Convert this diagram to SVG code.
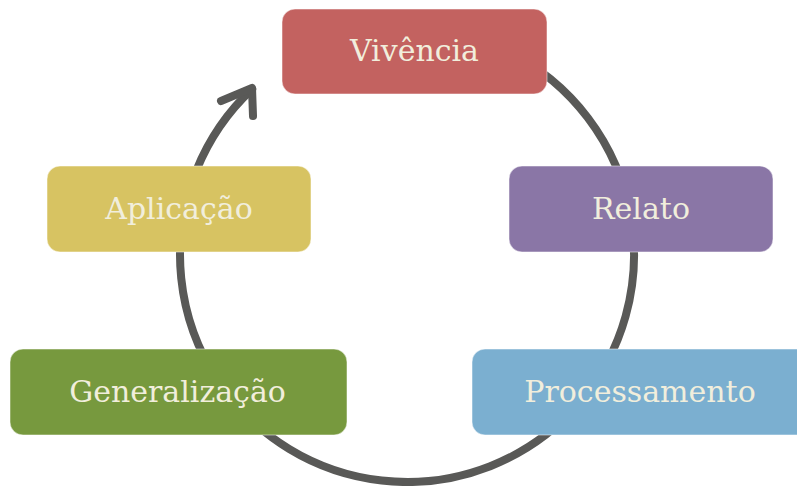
<svg xmlns="http://www.w3.org/2000/svg" width="797" height="486" viewBox="0 0 797 486">
  <style>
    .box { stroke: #ffffff; stroke-opacity: 0.5; stroke-width: 1; }
    .lbl { font-family: "DejaVu Serif", "Liberation Serif", serif; font-size: 30px; fill: #F1EEDC; text-anchor: middle; }
    .conn { fill: none; stroke: #595957; stroke-width: 8; stroke-linecap: round; stroke-linejoin: round; }
  </style>
  <rect width="797" height="486" fill="#ffffff"/>
  <g id="connectors">
    <path class="conn" d="M407,28 A227,227 0 1,1 252.2,89.0"/>
    <path class="conn" d="M221,101 L252,88 L253,116"/>
  </g>
  <g id="vivencia">
    <rect class="box" x="282" y="9" width="265" height="85" rx="13" fill="#C36260"/>
    <text class="lbl" x="414.5" y="61">Vivência</text>
  </g>
  <g id="relato">
    <rect class="box" x="509" y="166" width="264" height="86" rx="13" fill="#8A76A6"/>
    <text class="lbl" x="641" y="219">Relato</text>
  </g>
  <g id="processamento">
    <rect class="box" x="472" y="349" width="340" height="86" rx="13" fill="#7BAFD0"/>
    <text class="lbl" x="640" y="402">Processamento</text>
  </g>
  <g id="generalizacao">
    <rect class="box" x="10" y="349" width="337" height="86" rx="13" fill="#77993E"/>
    <text class="lbl" x="177.5" y="402">Generalização</text>
  </g>
  <g id="aplicacao">
    <rect class="box" x="47" y="166" width="264" height="86" rx="13" fill="#D7C362"/>
    <text class="lbl" x="179" y="219">Aplicação</text>
  </g>
</svg>
